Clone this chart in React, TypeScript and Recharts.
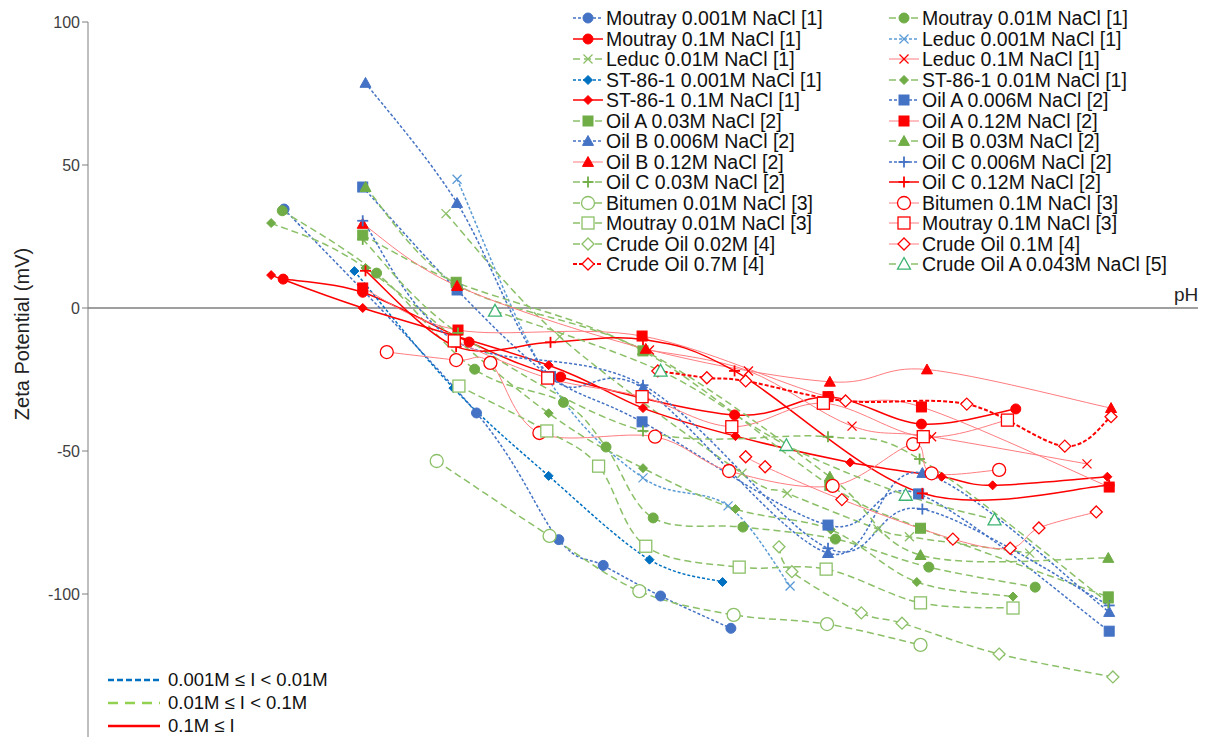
import React from 'react';
import { LineChart, Line, XAxis, YAxis, ReferenceLine } from 'recharts';

type Pt = [number, number];

// pH, zeta potential (mV)
const moutray001: Pt[] = [[2.12, 34.6], [4.2, -36.7], [5.09, -81], [5.57, -90], [6.19, -100.7], [6.95, -112]];
const moutray01: Pt[] = [[2.1, 34], [3.12, 12.2], [4.18, -21.4], [5.14, -33], [5.6, -48.6], [6.11, -73.4], [7.08, -76.6], [8.08, -80.8], [9.09, -90.6], [10.24, -97.6]];
const moutray1: Pt[] = [[2.11, 10.1], [2.97, 5.5], [4.12, -11.9], [5.11, -24.1], [6.99, -37.4], [8.01, -31.1], [9.01, -40.6], [10.03, -35.3]];
const leduc001: Pt[] = [[3.99, 45], [4.97, -24.5], [6.0, -59.4], [6.92, -69.2], [7.59, -97.2]];
const leduc01: Pt[] = [[3.87, 33], [5.1, -10], [7.07, -57.8], [7.56, -64.8], [8.54, -77.3], [8.88, -80], [10.18, -85.7]];
const leduc1: Pt[] = [[6.07, -14.7], [7.14, -22], [8.26, -41.3], [9.12, -45], [10.8, -54.5]];
const st001: Pt[] = [[2.88, 12.9], [3.95, -28], [4.98, -58.7], [6.07, -88], [6.86, -95.8]];
const st01: Pt[] = [[1.98, 29.7], [3.0, 14], [4.98, -36.8], [6.0, -56], [7.0, -70.3], [8.03, -77.5], [8.96, -95.8], [10.0, -100.9]];
const st1: Pt[] = [[1.98, 11.5], [2.97, 0], [4.98, -20], [6.0, -35], [7.0, -44.8], [8.24, -54], [9.23, -59], [9.78, -62], [11.02, -59]];
const oilA006: Pt[] = [[2.97, 42.3], [3.99, 6.3], [5.0, -24], [5.99, -39.8], [8.0, -75.9], [8.98, -65], [11.04, -113]];
const oilA03: Pt[] = [[2.97, 25.5], [3.98, 9], [6.0, -15], [8.02, -62], [9.0, -77], [11.03, -101]];
const oilA12: Pt[] = [[2.97, 7], [4.0, -7.7], [5.99, -9.8], [8.0, -31], [9.01, -34.6], [11.04, -62.6]];
const oilB006: Pt[] = [[3.0, 78.7], [3.99, 36.7], [5.0, -24], [6.0, -28], [8.0, -85.7], [9.02, -57.7], [11.04, -106.3]];
const oilB03: Pt[] = [[3.0, 42.3], [4.0, 8], [6.0, -14.7], [8.02, -59], [9.0, -86.4], [11.03, -87.4]];
const oilB12: Pt[] = [[2.97, 29.4], [3.99, 7.7], [6.03, -14.3], [8.02, -25.8], [9.07, -21.5], [11.06, -35]];
const oilC006: Pt[] = [[2.97, 30.5], [3.97, -11.5], [6.0, -27], [8.0, -84], [9.02, -70.3], [11.04, -104]];
const oilC03: Pt[] = [[2.97, 24], [4.0, -8.7], [6.0, -43], [8.0, -45], [8.99, -52.8], [11.03, -103]];
const oilC12: Pt[] = [[3.0, 13], [3.98, -13.5], [5.0, -12], [6.0, -11], [6.99, -22], [9.02, -64.8], [11.04, -62]];
const bitumen01: Pt[] = [[3.77, -53.5], [4.99, -79.7], [5.96, -99], [6.98, -107.3], [7.99, -110.5], [9.0, -117.8]];
const bitumen1: Pt[] = [[3.23, -15.4], [3.98, -18.2], [4.35, -19.2], [4.88, -43.7], [6.13, -45], [6.93, -57], [8.05, -62.2], [8.92, -47.6], [9.12, -57.8], [9.85, -56.6]];
const moutray3_01: Pt[] = [[4.01, -27.3], [4.96, -43], [5.52, -55.3], [6.03, -83.3], [7.04, -90.6], [7.98, -91.3], [9.0, -103.1], [10.0, -104.9]];
const moutray3_1: Pt[] = [[3.96, -11.5], [4.97, -24.5], [5.99, -31], [6.96, -41.5], [7.95, -33.3], [9.03, -45], [9.94, -39.2]];
const crude002: Pt[] = [[7.47, -83.5], [7.61, -92.2], [8.36, -106.6], [8.8, -110.2], [9.85, -121], [11.08, -129]];
const crude01: Pt[] = [[7.11, -52], [7.32, -55.5], [8.15, -67], [9.35, -80.8], [9.97, -84], [10.28, -76.9], [10.9, -71.3]];
const crude07: Pt[] = [[6.16, -22], [6.69, -24.4], [7.11, -25.5], [8.19, -32.5], [9.5, -33.6], [10.56, -48.3], [11.06, -38]];
const crudeA: Pt[] = [[4.4, -1], [6.19, -22], [7.55, -48], [8.84, -65.4], [9.8, -74]];

const xTicks = [0, 2, 4, 6, 8, 10, 12];
const yTicks = [-150, -100, -50, 0, 50, 100];

type Shape = 'circle' | 'x' | 'diamond' | 'square' | 'triangle' | 'plus';

interface Series {
  name: string;
  points: Pt[];
  color: string;
  line: string;
  width: number;
  dash?: string;
  shape: Shape;
  open?: boolean;
}

const BLUE = '#4472C4';
const BLUE2 = '#0070C0';
const LBLUE = '#5B9BD5';
const GREEN = '#70AD47';
const LGREEN = '#8CC068';
const RED = '#FF0000';
const PINK = '#FF7C80';
const DOT = '3 2';
const DASH = '7 4';

const series: Series[] = [
  { name: 'Moutray 0.001M NaCl [1]', points: moutray001, color: BLUE, line: BLUE, width: 1.5, dash: DOT, shape: 'circle' },
  { name: 'Moutray 0.01M NaCl [1]', points: moutray01, color: GREEN, line: LGREEN, width: 1.5, dash: DASH, shape: 'circle' },
  { name: 'Moutray 0.1M NaCl [1]', points: moutray1, color: RED, line: RED, width: 1.5, shape: 'circle' },
  { name: 'Leduc 0.001M NaCl [1]', points: leduc001, color: LBLUE, line: LBLUE, width: 1.5, dash: DOT, shape: 'x' },
  { name: 'Leduc 0.01M NaCl [1]', points: leduc01, color: LGREEN, line: LGREEN, width: 1.5, dash: DASH, shape: 'x' },
  { name: 'Leduc 0.1M NaCl [1]', points: leduc1, color: RED, line: PINK, width: 1, shape: 'x' },
  { name: 'ST-86-1 0.001M NaCl [1]', points: st001, color: BLUE2, line: BLUE2, width: 1.5, dash: DOT, shape: 'diamond' },
  { name: 'ST-86-1 0.01M NaCl [1]', points: st01, color: GREEN, line: LGREEN, width: 1.5, dash: DASH, shape: 'diamond' },
  { name: 'ST-86-1 0.1M NaCl [1]', points: st1, color: RED, line: RED, width: 1.5, shape: 'diamond' },
  { name: 'Oil A 0.006M NaCl [2]', points: oilA006, color: BLUE, line: BLUE, width: 1.5, dash: DOT, shape: 'square' },
  { name: 'Oil A 0.03M NaCl [2]', points: oilA03, color: GREEN, line: LGREEN, width: 1.5, dash: DASH, shape: 'square' },
  { name: 'Oil A 0.12M NaCl [2]', points: oilA12, color: RED, line: PINK, width: 1, shape: 'square' },
  { name: 'Oil B 0.006M NaCl [2]', points: oilB006, color: BLUE, line: BLUE, width: 1.5, dash: DOT, shape: 'triangle' },
  { name: 'Oil B 0.03M NaCl [2]', points: oilB03, color: GREEN, line: LGREEN, width: 1.5, dash: DASH, shape: 'triangle' },
  { name: 'Oil B 0.12M NaCl [2]', points: oilB12, color: RED, line: PINK, width: 1, shape: 'triangle' },
  { name: 'Oil C 0.006M NaCl [2]', points: oilC006, color: BLUE, line: BLUE, width: 1.5, dash: DOT, shape: 'plus' },
  { name: 'Oil C 0.03M NaCl [2]', points: oilC03, color: GREEN, line: LGREEN, width: 1.5, dash: DASH, shape: 'plus' },
  { name: 'Oil C 0.12M NaCl [2]', points: oilC12, color: RED, line: RED, width: 1.5, shape: 'plus' },
  { name: 'Bitumen 0.01M NaCl [3]', points: bitumen01, color: LGREEN, line: LGREEN, width: 1.5, dash: DASH, shape: 'circle', open: true },
  { name: 'Bitumen 0.1M NaCl [3]', points: bitumen1, color: RED, line: PINK, width: 1, shape: 'circle', open: true },
  { name: 'Moutray 0.01M NaCl [3]', points: moutray3_01, color: LGREEN, line: LGREEN, width: 1.5, dash: DASH, shape: 'square', open: true },
  { name: 'Moutray 0.1M NaCl [3]', points: moutray3_1, color: RED, line: PINK, width: 1, shape: 'square', open: true },
  { name: 'Crude Oil 0.02M [4]', points: crude002, color: LGREEN, line: LGREEN, width: 1.5, dash: DASH, shape: 'diamond', open: true },
  { name: 'Crude Oil 0.1M [4]', points: crude01, color: RED, line: PINK, width: 1, shape: 'diamond', open: true },
  { name: 'Crude Oil 0.7M [4]', points: crude07, color: RED, line: RED, width: 2, dash: '4 2', shape: 'diamond', open: true },
  { name: 'Crude Oil A 0.043M NaCl [5]', points: crudeA, color: '#3CB371', line: LGREEN, width: 1.5, dash: DASH, shape: 'triangle', open: true },
];

const rangeLegend = [
  { label: '0.001M \u2264 I < 0.01M', color: BLUE2, dash: '6 3' },
  { label: '0.01M \u2264 I < 0.1M', color: '#92D050', dash: '10 7' },
  { label: '0.1M \u2264 I', color: RED, dash: undefined },
];

const W = 1216;
const H = 745;
const M = { top: 22, right: 18, bottom: 8, left: 0 };
const Y_AXIS_W = 88;
// pixel row of y = 0 inside the plot
const ZERO_Y = M.top + ((H - M.top - M.bottom) * 100) / 250;
const FONT = '"Liberation Sans", Arial, sans-serif';

// Excel-like smoothed line (Catmull-Rom through the points)
class SmoothCurve {
  _ctx: any;
  _pts: number[][] = [];
  constructor(ctx: any) {
    this._ctx = ctx;
  }
  areaStart() {}
  areaEnd() {}
  lineStart() {
    this._pts = [];
  }
  point(x: number, y: number) {
    this._pts.push([+x, +y]);
  }
  lineEnd() {
    const p = this._pts;
    if (!p.length) return;
    this._ctx.moveTo(p[0][0], p[0][1]);
    for (let i = 0; i < p.length - 1; i++) {
      const p0 = p[i - 1] || p[i];
      const p1 = p[i];
      const p2 = p[i + 1];
      const p3 = p[i + 2] || p2;
      this._ctx.bezierCurveTo(
        p1[0] + (p2[0] - p0[0]) / 6,
        p1[1] + (p2[1] - p0[1]) / 6,
        p2[0] - (p3[0] - p1[0]) / 6,
        p2[1] - (p3[1] - p1[1]) / 6,
        p2[0],
        p2[1],
      );
    }
  }
}
const smooth: any = (ctx: any) => new SmoothCurve(ctx);

function Marker({ cx, cy, s }: { cx: number; cy: number; s: Series }) {
  const fill = s.open ? '#fff' : s.color;
  const sw = s.open ? 1.3 : 1;
  switch (s.shape) {
    case 'circle': {
      const r = s.open ? 6.5 : 5;
      return <circle cx={cx} cy={cy} r={r} fill={fill} stroke={s.color} strokeWidth={sw} />;
    }
    case 'square': {
      const h = s.open ? 6 : 5;
      return <rect x={cx - h} y={cy - h} width={h * 2} height={h * 2} fill={fill} stroke={s.color} strokeWidth={sw} />;
    }
    case 'diamond': {
      const h = s.open ? 6 : 4.5;
      return <polygon points={`${cx},${cy - h} ${cx + h},${cy} ${cx},${cy + h} ${cx - h},${cy}`} fill={fill} stroke={s.color} strokeWidth={sw} />;
    }
    case 'triangle': {
      const h = s.open ? 6.5 : 5.5;
      return <polygon points={`${cx},${cy - h} ${cx + h},${cy + h * 0.8} ${cx - h},${cy + h * 0.8}`} fill={fill} stroke={s.color} strokeWidth={sw} />;
    }
    case 'x':
      return (
        <g stroke={s.color} strokeWidth={1.3}>
          <line x1={cx - 4.5} y1={cy - 4.5} x2={cx + 4.5} y2={cy + 4.5} />
          <line x1={cx - 4.5} y1={cy + 4.5} x2={cx + 4.5} y2={cy - 4.5} />
        </g>
      );
    case 'plus':
      return (
        <g stroke={s.color} strokeWidth={1.8}>
          <line x1={cx - 5.5} y1={cy} x2={cx + 5.5} y2={cy} />
          <line x1={cx} y1={cy - 5.5} x2={cx} y2={cy + 5.5} />
        </g>
      );
  }
  return null;
}

const makeDot = (s: Series) => (props: any) => {
  const { cx, cy, index } = props;
  if (cx == null || cy == null) return <g key={`${s.name}-${index}`} />;
  return (
    <g key={`${s.name}-${index}`}>
      <Marker cx={cx} cy={cy} s={s} />
    </g>
  );
};

const XTick = (props: any) => {
  const { x, payload } = props;
  return (
    <g>
      <line x1={x} x2={x} y1={ZERO_Y} y2={ZERO_Y + 5} stroke="#7f7f7f" />
      <text x={x} y={ZERO_Y + 23} textAnchor="middle" fontSize={16} fill="#404040" fontFamily={FONT}>
        {payload.value}
      </text>
    </g>
  );
};

function LegendSwatch({ s }: { s: Series }) {
  return (
    <svg width={32} height={20} style={{ display: 'block' }}>
      <line x1={1} x2={31} y1={10} y2={10} stroke={s.line} strokeWidth={s.width} strokeDasharray={s.dash} />
      <Marker cx={16} cy={10} s={s} />
    </svg>
  );
}

export default function App() {
  return (
    <div style={{ position: 'absolute', left: 0, top: 0, width: W, height: H, background: '#fff', fontFamily: FONT }}>
      <LineChart width={W} height={H} margin={M}>
        <XAxis
          type="number"
          dataKey="x"
          domain={[0, 12]}
          ticks={xTicks}
          axisLine={false}
          tickLine={false}
          height={0}
          tick={<XTick />}
          allowDataOverflow
        />
        <YAxis
          type="number"
          dataKey="y"
          domain={[-150, 100]}
          ticks={yTicks}
          width={Y_AXIS_W}
          axisLine={{ stroke: '#7f7f7f' }}
          tickLine={{ stroke: '#7f7f7f' }}
          tickSize={6}
          tick={{ fontSize: 16, fill: '#404040', fontFamily: FONT }}
          allowDataOverflow
        />
        <ReferenceLine y={0} stroke="#7f7f7f" strokeWidth={1.5} />
        {series.map((s) => (
          <Line
            key={s.name}
            data={s.points.map(([x, y]) => ({ x, y }))}
            dataKey="y"
            name={s.name}
            type={smooth}
            stroke={s.line}
            strokeWidth={s.width}
            strokeDasharray={s.dash}
            dot={makeDot(s)}
            activeDot={false}
            isAnimationActive={false}
          />
        ))}
      </LineChart>

      {/* axis titles */}
      <div
        style={{
          position: 'absolute',
          left: 22,
          top: 334,
          transform: 'translate(-50%, -50%) rotate(-90deg)',
          fontSize: 20,
          color: '#222',
          whiteSpace: 'nowrap',
        }}
      >
        Zeta Potential (mV)
      </div>
      <div style={{ position: 'absolute', left: 1174, top: 284, fontSize: 19, color: '#222' }}>pH</div>

      {/* series legend */}
      {series.map((s, i) => {
        const col = i % 2;
        const row = Math.floor(i / 2);
        const cy = 18 + row * 20.5;
        const sx = col === 0 ? 572 : 888;
        return (
          <div key={s.name} style={{ position: 'absolute', left: sx, top: cy - 10, height: 20, display: 'flex', alignItems: 'center' }}>
            <LegendSwatch s={s} />
            <span style={{ fontSize: 19.5, color: '#111', marginLeft: 2, lineHeight: '20px', whiteSpace: 'nowrap' }}>{s.name}</span>
          </div>
        );
      })}

      {/* ionic strength legend */}
      {rangeLegend.map((r, i) => (
        <div key={r.label} style={{ position: 'absolute', left: 106, top: 669 + i * 23, height: 22, display: 'flex', alignItems: 'center' }}>
          <svg width={56} height={22} style={{ display: 'block' }}>
            <line x1={2} x2={54} y1={11} y2={11} stroke={r.color} strokeWidth={2.5} strokeDasharray={r.dash} />
          </svg>
          <span style={{ fontSize: 18.5, color: '#111', marginLeft: 6, whiteSpace: 'nowrap' }}>{r.label}</span>
        </div>
      ))}
    </div>
  );
}
